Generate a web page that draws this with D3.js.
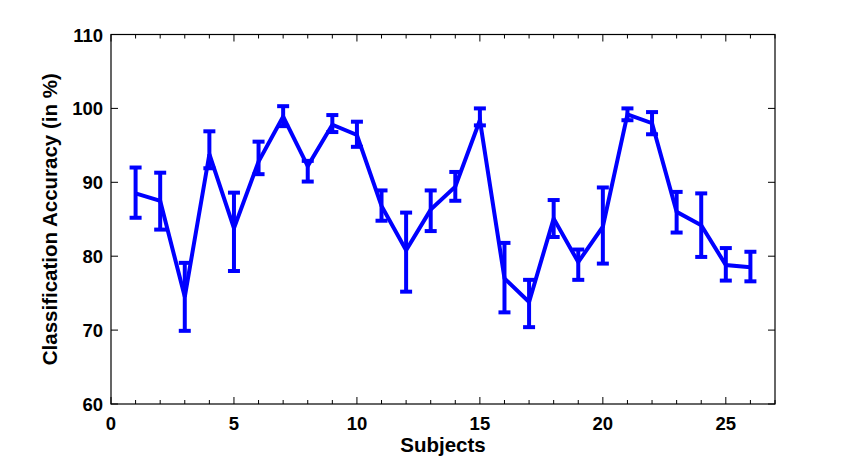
<!DOCTYPE html>
<html>
<head>
<meta charset="utf-8">
<script src="https://cdn.jsdelivr.net/npm/d3@7"></script>
<style>
  body { margin: 0; background: #fff; }
  text { font-family: "Liberation Sans", Arial, sans-serif; font-weight: bold; }
</style>
</head>
<body>
<div id="graf"></div>
<script>
// Precisión de clasificación por sujeto (media y barras de error)
subjects = d3.range(1, 27)
media = [88.5, 87.5, 74.5, 93.8, 83.8, 92.8, 98.9, 92.2, 97.8, 96.4,
         86.8, 80.8, 86.3, 89.4, 98.4, 77.0, 73.8, 85.1, 79.2, 84.0,
         99.2, 98.0, 86.0, 84.2, 78.8, 78.5]
arriba = [92.0, 91.3, 79.1, 96.9, 88.6, 95.5, 100.3, 92.9, 99.1, 98.2,
          88.9, 85.9, 88.9, 91.4, 100.0, 81.8, 76.8, 87.6, 80.9, 89.3,
          100.0, 99.5, 88.7, 88.5, 81.1, 80.6]
abajo = [85.2, 83.6, 69.9, 91.9, 78.0, 91.1, 97.6, 90.1, 96.8, 94.8,
         84.8, 75.2, 83.4, 87.5, 97.7, 72.4, 70.4, 82.6, 76.8, 79.0,
         98.4, 96.5, 83.2, 79.9, 76.7, 76.6]
xTicks = [0, 5, 10, 15, 20, 25]
yTicks = [60, 70, 80, 90, 100, 110]

ancho_total = 857
alto_total = 461
margins = { top: 34.5, left: 111, right: 82, bottom: 57 }
ancho = ancho_total - margins.left - margins.right
alto = alto_total - margins.top - margins.bottom

svg = d3.select('#graf').append('svg')
        .attr('width', ancho_total)
        .attr('height', alto_total)

g = svg.append('g')
       .attr('transform', `translate(${margins.left}, ${margins.top})`)

// Escaladores
x = d3.scaleLinear().domain([0, 27]).range([0, ancho])
y = d3.scaleLinear().domain([60, 110]).range([alto, 0])

azul = '#0000ff'

// Ticks hacia dentro (estilo MATLAB)
minor = d3.range(0, 28)
ejeX = g.append('g').attr('transform', `translate(0, ${alto})`)
ejeX.selectAll('line').data(minor).join('line')
    .attr('x1', d => x(d)).attr('x2', d => x(d))
    .attr('y1', 0).attr('y2', d => d % 5 == 0 ? -7 : -4)
    .attr('stroke', '#000')
ejeXTop = g.append('g')
ejeXTop.selectAll('line').data(minor).join('line')
    .attr('x1', d => x(d)).attr('x2', d => x(d))
    .attr('y1', 0).attr('y2', d => d % 5 == 0 ? 7 : 4)
    .attr('stroke', '#000')
ejeX.selectAll('text').data(xTicks).join('text')
    .attr('x', d => x(d)).attr('y', 25.5)
    .attr('text-anchor', 'middle')
    .attr('font-size', 18.5)
    .text(d => d)

ejeY = g.append('g')
ejeY.selectAll('line.l').data(yTicks).join('line')
    .attr('class', 'l')
    .attr('x1', 0).attr('x2', 7)
    .attr('y1', d => y(d)).attr('y2', d => y(d))
    .attr('stroke', '#000')
ejeY.selectAll('line.r').data(yTicks).join('line')
    .attr('class', 'r')
    .attr('x1', ancho).attr('x2', ancho - 7)
    .attr('y1', d => y(d)).attr('y2', d => y(d))
    .attr('stroke', '#000')
ejeY.selectAll('text').data(yTicks).join('text')
    .attr('x', -8).attr('y', d => y(d) + 7)
    .attr('text-anchor', 'end')
    .attr('font-size', 18.5)
    .text(d => d)

// Marco
g.append('rect')
 .attr('width', ancho).attr('height', alto)
 .attr('fill', 'none').attr('stroke', '#000').attr('stroke-width', 1.2)

datos = subjects.map((s, i) => ({ s: s, m: media[i], hi: arriba[i], lo: abajo[i] }))

// Barras de error
eb = g.append('g').attr('stroke', azul).attr('stroke-width', 4).attr('fill', 'none')
eb.selectAll('line.v').data(datos).join('line').attr('class', 'v')
  .attr('x1', d => x(d.s)).attr('x2', d => x(d.s))
  .attr('y1', d => y(d.hi)).attr('y2', d => y(d.lo))
eb.selectAll('line.t').data(datos).join('line').attr('class', 't')
  .attr('x1', d => x(d.s) - 6).attr('x2', d => x(d.s) + 6)
  .attr('y1', d => y(d.hi)).attr('y2', d => y(d.hi))
eb.selectAll('line.b').data(datos).join('line').attr('class', 'b')
  .attr('x1', d => x(d.s) - 6).attr('x2', d => x(d.s) + 6)
  .attr('y1', d => y(d.lo)).attr('y2', d => y(d.lo))

// Línea de medias
lineaGen = d3.line().x(d => x(d.s)).y(d => y(d.m))
g.append('path')
 .attr('d', lineaGen(datos))
 .attr('fill', 'none')
 .attr('stroke', azul)
 .attr('stroke-width', 4)
 .attr('stroke-linejoin', 'miter')

// Títulos de ejes
svg.append('text')
   .attr('x', margins.left + x(13.5)).attr('y', 452)
   .attr('text-anchor', 'middle')
   .attr('font-size', 20.5)
   .text('Subjects')
svg.append('text')
   .attr('transform', `translate(56.5, ${margins.top + alto / 2}) rotate(-90)`)
   .attr('text-anchor', 'middle')
   .attr('font-size', 20.5)
   .text('Classification Accuracy (in %)')
</script>
</body>
</html>
